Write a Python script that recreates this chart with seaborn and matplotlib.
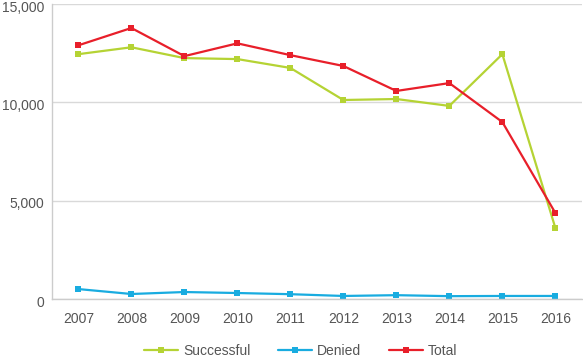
import pandas as pd
import matplotlib.pyplot as plt
import matplotlib.transforms as mtransforms
import seaborn as sns
from matplotlib.ticker import FuncFormatter, FixedLocator

sns.set_style("white")
plt.rcParams["font.family"] = ["Liberation Sans", "DejaVu Sans"]

# data
years = ["2007", "2008", "2009", "2010", "2011", "2012", "2013", "2014", "2015", "2016"]
successful = [12450, 12800, 12250, 12200, 11750, 10120, 10170, 9820, 12450, 3620]
denied = [510, 260, 360, 310, 250, 160, 200, 150, 160, 160]
total = [12900, 13780, 12350, 13000, 12400, 11850, 10580, 10980, 9000, 4380]

series = ["Successful", "Denied", "Total"]
colors = ["#b5d334", "#19ace0", "#e81f2a"]

df = pd.DataFrame({
    "Year": years * 3,
    "Count": successful + denied + total,
    "Series": [s for s in series for _ in years],
})

fig, ax = plt.subplots(figsize=(5.83, 3.63), dpi=100)
fig.subplots_adjust(left=0.089, right=0.998, top=0.989, bottom=0.176)

sns.lineplot(data=df, x="Year", y="Count", hue="Series", hue_order=series,
             palette=colors, marker="s", markersize=5, markeredgewidth=0,
             linewidth=1.6, ax=ax)

ax.set_xlim(-0.5, len(years) - 0.5)
ax.set_ylim(0, 15000)
ax.set_yticks([0, 5000, 10000, 15000])
ax.yaxis.set_major_formatter(FuncFormatter(lambda v, p: f"{int(v):,}"))
ax.grid(axis="y", color="#d9d9d9", linewidth=1)
ax.set_axisbelow(True)

ax.xaxis.set_minor_locator(FixedLocator([i - 0.5 for i in range(len(years) + 1)]))
ax.tick_params(axis="x", which="minor", direction="in", length=5, color="#cccccc", width=1)
ax.tick_params(axis="x", which="major", length=0, pad=9)
ax.tick_params(axis="y", length=0, pad=5.5)
ax.tick_params(labelsize=10, labelcolor="#555555")
# y labels hang just below their grid line, as in the original
shift = mtransforms.ScaledTranslation(0, 2.5 / 72, fig.dpi_scale_trans)
for lab in ax.get_yticklabels():
    lab.set_verticalalignment("top")
    lab.set_transform(lab.get_transform() + shift)

ax.set_xlabel("")
ax.set_ylabel("")
for side in ["top", "right"]:
    ax.spines[side].set_visible(False)
for side in ["left", "bottom"]:
    ax.spines[side].set_color("#cccccc")
    ax.spines[side].set_linewidth(1)

ax.legend(loc="upper center", bbox_to_anchor=(0.47, -0.11), ncol=3, frameon=False,
          fontsize=10, handlelength=2.4, columnspacing=2.0, handletextpad=0.4,
          labelcolor="#555555")

plt.savefig("out.png", dpi=100)
